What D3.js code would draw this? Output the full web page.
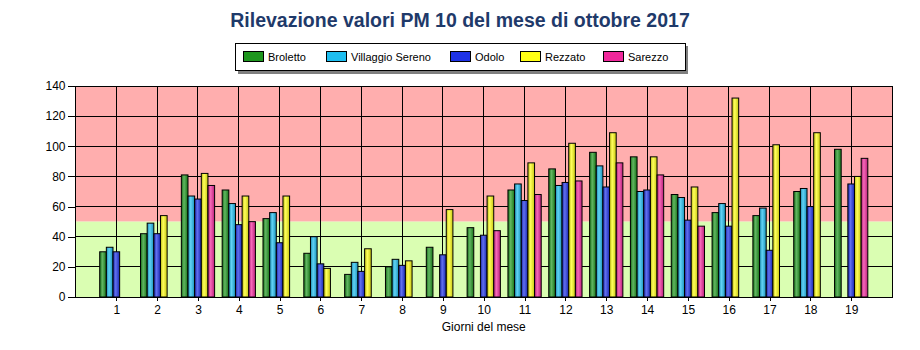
<!DOCTYPE html>
<html><head><meta charset="utf-8">
<script src="https://cdn.jsdelivr.net/npm/d3@7"></script>
<style>body{margin:0;background:#fff}svg{display:block}</style>
</head><body>
<script>
const days = [1,2,3,4,5,6,7,8,9,10,11,12,13,14,15,16,17,18,19];
const seriesNames = ["Broletto","Villaggio Sereno","Odolo","Rezzato","Sarezzo"];
const seriesColors = ["#1E961E","#1EBEF0","#1E32E6","#FFFF14","#F0289B"];
const broletto = [30,42,81,71,52,29,15,20,33,46,71,85,96,93,68,56,54,70,98];
const villaggio = [33,49,67,62,56,40,23,25,null,null,75,74,87,70,66,62,59,72,null];
const odolo = [30,42,65,48,36,22,17,21,28,41,64,76,73,71,51,47,31,60,75];
const rezzato = [null,54,82,67,67,19,32,24,58,67,89,102,109,93,73,132,101,109,80];
const sarezzo = [null,null,74,50,null,null,null,null,null,44,68,77,89,81,47,null,null,null,92];
const yTicks = [0,20,40,60,80,100,120,140];
const limit = 50;
const title = "Rilevazione valori PM 10 del mese di ottobre 2017";
const xTitle = "Giorni del mese";

const allSeries = [broletto, villaggio, odolo, rezzato, sarezzo];
const W = 920, H = 350;
const svg = d3.select("body").append("svg").attr("width", W).attr("height", H);
const font = "'Liberation Sans', Arial, sans-serif";

const x = d3.scaleLinear().domain([0, 20]).range([75.5, 892]);
const y = d3.scaleLinear().domain([0, 140]).range([297, 86]);
const step = x(1) - x(0);
const bw = step * 0.163;

// gradients
const defs = svg.append("defs");
seriesColors.forEach((c, i) => {
  const base = d3.rgb(c);
  const g = defs.append("linearGradient").attr("id", "g" + i).attr("x1", 0).attr("x2", 1).attr("y1", 0).attr("y2", 0);
  g.append("stop").attr("offset", "0%").attr("stop-color", base.darker(0.9));
  g.append("stop").attr("offset", "40%").attr("stop-color", d3.interpolateRgb(base, "#fff")(0.3));
  g.append("stop").attr("offset", "100%").attr("stop-color", base.darker(0.7));
});

// background zones
svg.append("rect").attr("x", x(0)).attr("y", y(140)).attr("width", x(20) - x(0)).attr("height", y(limit) - y(140)).attr("fill", "#FFAEAE");
svg.append("rect").attr("x", x(0)).attr("y", y(limit)).attr("width", x(20) - x(0)).attr("height", y(0) - y(limit)).attr("fill", "#DAFEB2");

// grid
const grid = svg.append("g").attr("stroke", "#000").attr("stroke-width", 1).attr("shape-rendering", "crispEdges");
yTicks.forEach(t => grid.append("line").attr("x1", x(0)).attr("x2", x(20)).attr("y1", y(t)).attr("y2", y(t)));
days.forEach(d => grid.append("line").attr("x1", x(d)).attr("x2", x(d)).attr("y1", y(0)).attr("y2", y(140)));

// bars
allSeries.forEach((vals, si) => {
  svg.append("g").selectAll("rect")
    .data(days.map((d, i) => ({d, v: vals[i]})).filter(o => o.v != null))
    .join("rect")
    .attr("x", o => x(o.d) + (si - 2.5) * bw)
    .attr("y", o => y(o.v))
    .attr("width", bw)
    .attr("height", o => y(0) - y(o.v))
    .attr("fill", `url(#g${si})`)
    .attr("stroke", "#000").attr("stroke-width", 1);
});

// frame
svg.append("rect").attr("x", x(0)).attr("y", y(140)).attr("width", x(20) - x(0)).attr("height", y(0) - y(140))
  .attr("fill", "none").attr("stroke", "#000").attr("shape-rendering", "crispEdges");

// axes
const yAxis = svg.append("g").attr("transform", `translate(${x(0)},0)`)
  .call(d3.axisLeft(y).tickValues(yTicks).tickSize(8).tickPadding(2));
const xAxis = svg.append("g").attr("transform", `translate(0,${y(0)})`)
  .call(d3.axisBottom(x).tickValues(days).tickSize(4).tickPadding(4));
[yAxis, xAxis].forEach(a => {
  a.select(".domain").remove();
  a.selectAll("line").attr("stroke", "#000").attr("shape-rendering", "crispEdges");
  a.selectAll("text").attr("font-family", font).attr("font-size", 12).attr("fill", "#000");
});

svg.append("text").attr("x", (x(0) + x(20)) / 2).attr("y", 331).attr("text-anchor", "middle")
  .attr("font-family", font).attr("font-size", 12).attr("fill", "#000").text(xTitle);

// title
svg.append("text").attr("x", 460).attr("y", 27).attr("text-anchor", "middle")
  .attr("font-family", font).attr("font-weight", "bold").attr("font-size", 19.5).attr("fill", "#1F3A6A").text(title);

// legend
const lg = svg.append("g");
lg.append("rect").attr("x", 238).attr("y", 46).attr("width", 450).attr("height", 28).attr("fill", "#808080");
lg.append("rect").attr("x", 235.5).attr("y", 43.5).attr("width", 450).attr("height", 27).attr("fill", "#fff").attr("stroke", "#000");
const legX = [243, 326, 450, 520, 603];
seriesNames.forEach((n, i) => {
  lg.append("rect").attr("x", legX[i] + 0.5).attr("y", 51.5).attr("width", 20).attr("height", 10)
    .attr("fill", seriesColors[i]).attr("stroke", "#000");
  lg.append("text").attr("x", legX[i] + 25).attr("y", 61).attr("font-family", font).attr("font-size", 11)
    .attr("fill", "#000").text(n);
});
</script>
</body></html>
